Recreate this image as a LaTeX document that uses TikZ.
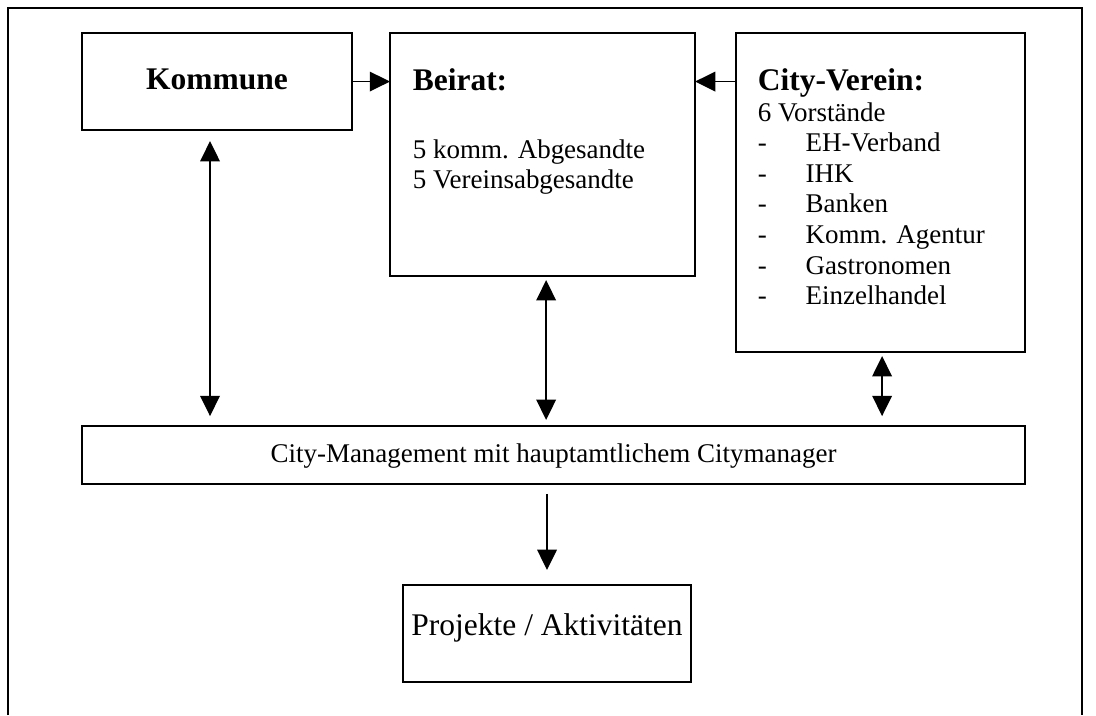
\documentclass[tikz,border=0pt]{standalone}
\usepackage{fontspec}
\setmainfont{Liberation Serif}
\usetikzlibrary{arrows.meta}

\newcommand{\kopfschrift}{\fontsize{14}{16}\bfseries\selectfont}
\newcommand{\textschrift}{\fontsize{12}{13.6}\selectfont}
\newcommand{\strich}{\makebox[21.3pt][l]{-}}

\tikzset{
  kasten/.style={draw, line width=0.9pt, anchor=north west, inner sep=0pt, outer sep=0pt},
  liste/.style={anchor=north west, align=left, inner sep=0pt, font=\textschrift},
  pfeil/.style={-{Triangle[length=9pt,width=8.7pt]}},
  doppel/.style={{Triangle[length=9pt,width=8.7pt]}-{Triangle[length=9pt,width=8.7pt]}}
}

\begin{document}
\begin{tikzpicture}[line width=0.7pt]
\useasboundingbox (0,0) rectangle (17.125,-11.172);
\draw[line width=1pt] (0.125,-11.172) -- (0.125,-0.125) -- (16.906,-0.125) -- (16.906,-11.172);

\node[kasten, minimum width=4.219cm, minimum height=1.516cm] (kommune) at (1.281,-0.516) {};
\node[kasten, minimum width=4.766cm, minimum height=3.797cm] (beirat) at (6.094,-0.516) {};
\node[kasten, minimum width=4.516cm, minimum height=4.984cm] (verein) at (11.5,-0.516) {};
\node[kasten, minimum width=14.734cm, minimum height=0.906cm] (cm) at (1.281,-6.656) {};
\node[kasten, minimum width=4.5cm, minimum height=1.516cm] (projekte) at (6.297,-9.141) {};

\node[anchor=base, font=\kopfschrift] (kommunetxt) at (3.391,-1.391) {Kommune};
\node[liste] (beirattxt) at (6.4375,-1.061)
  {{\kopfschrift Beirat:}\\[16.4pt]5 komm. Abgesandte\\5 Vereinsabgesandte};
\node[liste] (vereintxt) at (11.828,-1.061)
  {{\kopfschrift City-Verein:}\\6 Vorstände\\\strich EH-Verband\\\strich IHK\\\strich Banken\\
   \strich Komm. Agentur\\\strich Gastronomen\\\strich Einzelhandel};
\node[anchor=base, font=\textschrift] (cmtxt) at (8.648,-7.219) {City-Management mit hauptamtlichem Citymanager};
\node[anchor=base, font=\fontsize{14}{16}\selectfont] (projekttxt) at (8.547,-9.922) {Projekte / Aktivitäten};

\draw[pfeil] (kommune.east) -- (kommune.east -| beirat.west);
\draw[pfeil] (verein.west |- kommune.east) -- (kommune.east -| beirat.east);
\draw[doppel, shorten <=4.9pt, shorten >=4.4pt] ([xshift=-3.1pt]kommune.south) -- ([xshift=-3.1pt]kommune.south |- cm.north);
\draw[doppel, shorten <=1.8pt, shorten >=2.7pt] ([xshift=1.6pt]beirat.south) -- ([xshift=1.6pt]beirat.south |- cm.north);
\draw[doppel, shorten <=1.8pt, shorten >=4.4pt] ([xshift=0.7pt]verein.south) -- ([xshift=0.7pt]verein.south |- cm.north);
\draw[pfeil, shorten <=4.4pt, shorten >=6.7pt] (cm.south -| projekte.north) -- (projekte.north);
\end{tikzpicture}
\end{document}
